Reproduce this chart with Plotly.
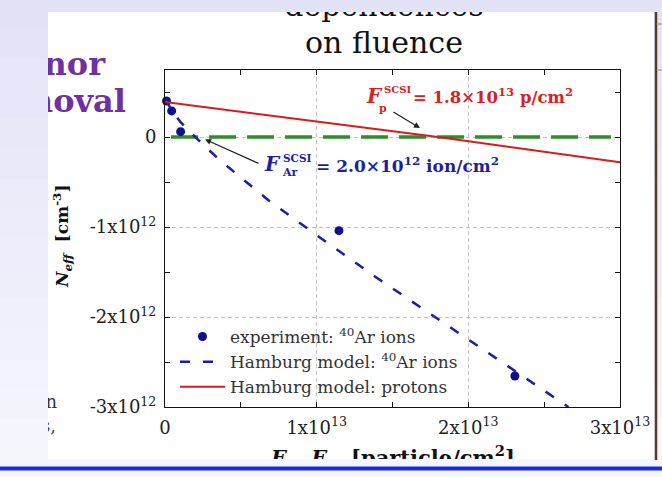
import plotly.graph_objects as go

W, H = 662, 477


def px(x):
    return x / W


def py(y):
    return 1 - y / H


# ---------------- data ----------------
exp_fluence = [1.0e11, 4.4e11, 1.03e12, 1.147e13, 2.307e13]
exp_neff = [0.40e12, 0.29e12, 0.06e12, -1.04e12, -2.655e12]

ar_model_fluence = [0.0, 0.044e13, 0.1e13, 0.2e13, 0.35e13, 0.68e13, 1.0e13, 1.384e13, 2.0e13, 2.66e13]
ar_model_neff = [0.43e12, 0.30e12, 0.17e12, 0.0, -0.24e12, -0.70e12, -1.09e12, -1.55e12, -2.25e12, -3.0e12]

p_model_fluence = [0.0, 1.0e13, 1.8e13, 3.0e13]
p_model_neff = [0.39e12, 0.175e12, 0.0, -0.28e12]

zero_fluence = [0.04e13, 2.94e13]
zero_neff = [0.0, 0.0]

x_tickvals = [0, 1e13, 2e13, 3e13]
x_ticktext = ["0", "1x10<sup>13</sup>", "2x10<sup>13</sup>", "3x10<sup>13</sup>"]
x_minor = [0.5e13, 1.5e13, 2.5e13]
y_tickvals = [0, -1e12, -2e12, -3e12]
y_ticktext = ["0", "-1x10<sup>12</sup>", "-2x10<sup>12</sup>", "-3x10<sup>12</sup>"]
y_minor = [0.5e12, -0.5e12, -1.5e12, -2.5e12]

legend_names = ["experiment: <sup>40</sup>Ar ions",
                "Hamburg model: <sup>40</sup>Ar ions",
                "Hamburg model: protons"]

SERIF = "DejaVu Serif"
NAVY = "#10108a"
BLUE_LINE = "#1c1caa"
RED = "#d81c1c"
RED_TXT = "#d42222"
BLUE_TXT = "#1f1f9e"
GREEN = "#2e8c2a"
PURPLE = "#7030a0"

fig = go.Figure()

fig.add_trace(go.Scatter(x=zero_fluence, y=zero_neff, mode="lines",
                         line=dict(color=GREEN, width=3.5, dash="27px,11px"),
                         showlegend=False, hoverinfo="skip"))
fig.add_trace(go.Scatter(x=exp_fluence, y=exp_neff, mode="markers", name=legend_names[0],
                         marker=dict(color=NAVY, size=9), cliponaxis=False))
fig.add_trace(go.Scatter(x=ar_model_fluence, y=ar_model_neff, mode="lines", name=legend_names[1],
                         line=dict(color=BLUE_LINE, width=2.5, dash="10px,13px")))
fig.add_trace(go.Scatter(x=p_model_fluence, y=p_model_neff, mode="lines", name=legend_names[2],
                         line=dict(color=RED, width=2)))

# ---------------- static texts (pixel-mapped overlay, clipped to the white panel) ----------------
texts = []  # (x, baseline, text, size, color, position)
texts.append((384, 16, "dependences", 30, "#111", "middle center"))
texts.append((384, 53, "on fluence", 30, "#111", "middle center"))
texts.append((105, 75, "<b>Donor</b>", 32, PURPLE, "middle left"))
texts.append((126, 112, "<b>removal</b>", 32, PURPLE, "middle left"))
texts.append((57, 408, "Irradiation", 18, "#333344", "middle left"))
texts.append((56, 432, "ones,", 18, "#3a3a90", "middle left"))
texts.append((393, 465, "<b><i>F</i><sub>n</sub>, <i>F</i><sub>p</sub>  [particle/cm<sup>2</sup>]</b>",
              21, "#111", "middle center"))
# red label
texts.append((367, 103, "<b><i>F</i></b>", 20, RED_TXT, "middle right"))
texts.append((384, 93, "<b>SCSI</b>", 10, RED_TXT, "middle right"))
texts.append((379, 112, "<b>p</b>", 11, RED_TXT, "middle right"))
texts.append((413, 103, "<b>= 1.8×10<sup>13</sup> p/cm<sup>2</sup></b>", 16.5, RED_TXT, "middle right"))
# blue label
texts.append((265, 171, "<b><i>F</i></b>", 20, BLUE_TXT, "middle right"))
texts.append((283, 162, "<b>SCSI</b>", 10.5, BLUE_TXT, "middle right"))
texts.append((283, 176, "<b>Ar</b>", 11, BLUE_TXT, "middle right"))
texts.append((316, 172, "<b>= 2.0×10<sup>12</sup> ion/cm<sup>2</sup></b>", 17, BLUE_TXT, "middle right"))

fig.add_trace(go.Scatter(
    x=[t[0] for t in texts],
    y=[t[1] - 0.25 * t[3] for t in texts],
    text=[t[2] for t in texts],
    mode="text",
    textposition=[t[5] for t in texts],
    textfont=dict(family=SERIF, size=[t[3] for t in texts], color=[t[4] for t in texts]),
    xaxis="x2", yaxis="y2", showlegend=False, hoverinfo="skip", cliponaxis=True))

# ---------------- arrows and y title ----------------
annotations = [
    dict(x=1.681e13, y=0.10e12, ax=1.496e13, ay=0.289e12, xref="x", yref="y", axref="x", ayref="y",
         text="", showarrow=True, arrowhead=2, arrowsize=1, arrowwidth=1.2, arrowcolor="#222"),
    dict(x=0.264e13, y=-0.026e12, ax=0.626e13, ay=-0.30e12, xref="x", yref="y", axref="x", ayref="y",
         text="", showarrow=True, arrowhead=2, arrowsize=1, arrowwidth=1.2, arrowcolor="#222"),
    dict(x=px(62), y=py(237), xref="paper", yref="paper", textangle=-90, showarrow=False,
         xanchor="center", yanchor="middle",
         text="<b><i>N</i><sub><i>eff</i></sub>  [cm<sup>-3</sup>]</b>",
         font=dict(family=SERIF, size=17, color="#111")),
]

# ---------------- background shapes ----------------
shapes = []
n_bands = 16
top = (227, 227, 248)
bot = (246, 246, 253)
for i in range(n_bands):
    f = i / (n_bands - 1)
    c = tuple(round(top[k] + (bot[k] - top[k]) * f) for k in range(3))
    shapes.append(dict(type="rect", xref="paper", yref="paper", x0=0, x1=1,
                       y0=py((i + 1) * H / n_bands), y1=py(i * H / n_bands),
                       fillcolor="rgb(%d,%d,%d)" % c, line=dict(width=0), layer="below"))
shapes.append(dict(type="rect", xref="paper", yref="paper", x0=px(48), x1=px(654), y0=py(459), y1=py(12),
                   fillcolor="white", line=dict(width=0), layer="below"))
shapes.append(dict(type="line", xref="paper", yref="paper", x0=px(656), x1=px(656), y0=py(460), y1=py(12),
                   line=dict(color="#5a3a24", width=2.5), layer="below"))
shapes.append(dict(type="line", xref="paper", yref="paper", x0=0, x1=1, y0=py(468.5), y1=py(468.5),
                   line=dict(color="#1a2ae6", width=4), layer="below"))
for yy in (24, 70):
    shapes.append(dict(type="line", xref="paper", yref="paper", x0=px(658), x1=px(662), y0=py(yy), y1=py(yy),
                       line=dict(color="#888", width=1), layer="below"))

axis_common = dict(showline=True, linecolor="#111", linewidth=1, mirror="allticks",
                   ticks="inside", ticklen=5, tickcolor="#111", tickwidth=1,
                   showgrid=True, gridcolor="#c4c4c4", gridwidth=1, griddash="4px,3px",
                   zeroline=False, automargin=False,
                   tickfont=dict(family=SERIF, size=18, color="#222"))

fig.update_layout(
    width=W, height=H, margin=dict(l=0, r=0, t=0, b=0, autoexpand=False),
    paper_bgcolor="rgb(236,236,250)", plot_bgcolor="rgba(0,0,0,0)",
    xaxis=dict(domain=[px(165), px(620)], range=[0, 3e13], tickmode="array",
               tickvals=x_tickvals, ticktext=x_ticktext, ticklabelstandoff=4,
               minor=dict(tickmode="array", tickvals=x_minor, ticks="inside", ticklen=5,
                          tickcolor="#111", showgrid=False),
               **axis_common),
    yaxis=dict(domain=[py(407), py(70)], range=[-3e12, 0.745e12], tickmode="array",
               tickvals=y_tickvals, ticktext=y_ticktext, ticklabelstandoff=4,
               minor=dict(tickmode="array", tickvals=y_minor, ticks="inside", ticklen=5,
                          tickcolor="#111", showgrid=False),
               **axis_common),
    xaxis2=dict(domain=[px(48), px(654)], range=[48, 654], visible=False, anchor="y2", fixedrange=True),
    yaxis2=dict(domain=[py(459), py(12)], range=[459, 12], visible=False, anchor="x2", fixedrange=True),
    legend=dict(x=px(175), y=py(319), xanchor="left", yanchor="top", bgcolor="rgba(0,0,0,0)",
                font=dict(family=SERIF, size=17, color="#333"), itemwidth=45,
                tracegroupgap=0),
    annotations=annotations,
    shapes=shapes,
    showlegend=True,
)

fig.write_html("out.html",
               post_script="document.body.style.margin='0';document.body.style.overflow='hidden';",
               config={"displayModeBar": False})
